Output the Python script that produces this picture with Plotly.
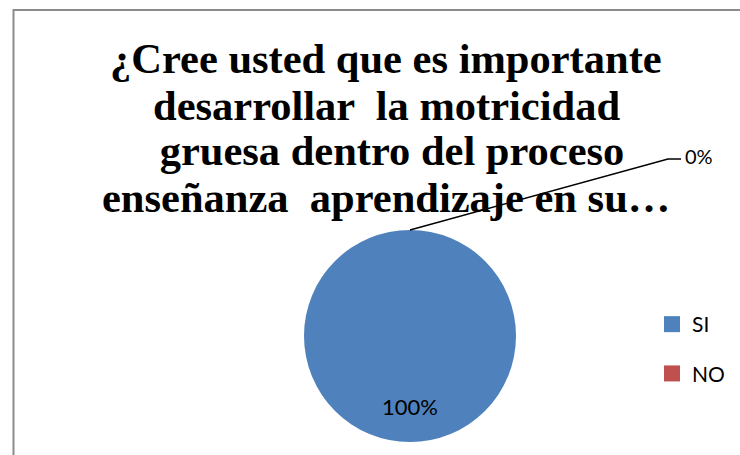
import plotly.graph_objects as go

# data
labels = ["SI", "NO"]
values = [100, 0]
colors = ["#4F81BD", "#C0504D"]
title_lines = [
    "¿Cree usted que es importante",
    "desarrollar  la motricidad",
    " gruesa dentro del proceso",
    "enseñanza  aprendizaje en su…",
]

W, H = 740, 455
total = sum(values)
pct = [f"{round(v * 100 / total)}%" for v in values]


def px(x):
    return x / W


def py(y):
    return 1 - y / H


fig = go.Figure()

# pie itself, legend drawn separately so the gap between items can match
fig.add_trace(go.Pie(
    labels=labels,
    values=values,
    marker=dict(colors=colors),
    sort=False,
    direction="clockwise",
    rotation=0,
    textinfo="none",
    hoverinfo="label+percent",
    showlegend=False,
    domain=dict(x=[px(410 - 106), px(410 + 106)], y=[py(336 + 106), py(336 - 106)]),
))

# legend entries
for i, lab in enumerate(labels):
    fig.add_trace(go.Scatter(
        x=[None], y=[None], mode="markers", name=lab,
        legendgroup=lab,
        marker=dict(symbol="square", size=16, color=colors[i]),
    ))

# title, one annotation per line so the line spacing can be tighter than plotly's
for i, line in enumerate(title_lines):
    fig.add_annotation(x=px(386), y=py(59 + 46 * i), xref="paper", yref="paper",
                       xanchor="center", yanchor="middle",
                       text="<b>" + line + "</b>", showarrow=False,
                       font=dict(family="Liberation Serif", size=42.5, color="#000"))

# data labels (the 100% slice label sits low in the slice, 0% outside with a leader)
fig.add_annotation(x=px(410), y=py(406), xref="paper", yref="paper",
                   xanchor="center", yanchor="middle",
                   text=pct[0], showarrow=False,
                   font=dict(family="Lato", size=22, color="#000"))
fig.add_annotation(x=px(683), y=py(156), xref="paper", yref="paper",
                   xanchor="left", yanchor="middle",
                   text=pct[1], showarrow=False,
                   font=dict(family="Lato", size=20, color="#000"))

shapes = [
    # chart frame
    dict(type="rect", xref="paper", yref="paper",
         x0=px(13.5), y0=-0.05, x1=1.05, y1=py(10),
         line=dict(color="#8c8c8c", width=2), layer="below"),
    # leader line of the 0% label
    dict(type="path", xref="paper", yref="paper",
         path=f"M {px(410)} {py(230)} L {px(668)} {py(159)} L {px(681)} {py(159)}",
         line=dict(color="#000", width=1.5)),
]

fig.update_layout(
    width=W, height=H,
    margin=dict(l=0, r=0, t=0, b=0),
    paper_bgcolor="white",
    plot_bgcolor="white",
    xaxis=dict(visible=False),
    yaxis=dict(visible=False),
    legend=dict(
        x=px(652), y=py(304), xanchor="left", yanchor="top",
        tracegroupgap=19,
        font=dict(family="Lato", size=21, color="#000"),
        bgcolor="rgba(0,0,0,0)",
    ),
    shapes=shapes,
)

# the page's default 8px body margin would shift the whole figure
fig.write_html("out.html", config={"displayModeBar": False},
               post_script="document.body.style.margin = '0';")
